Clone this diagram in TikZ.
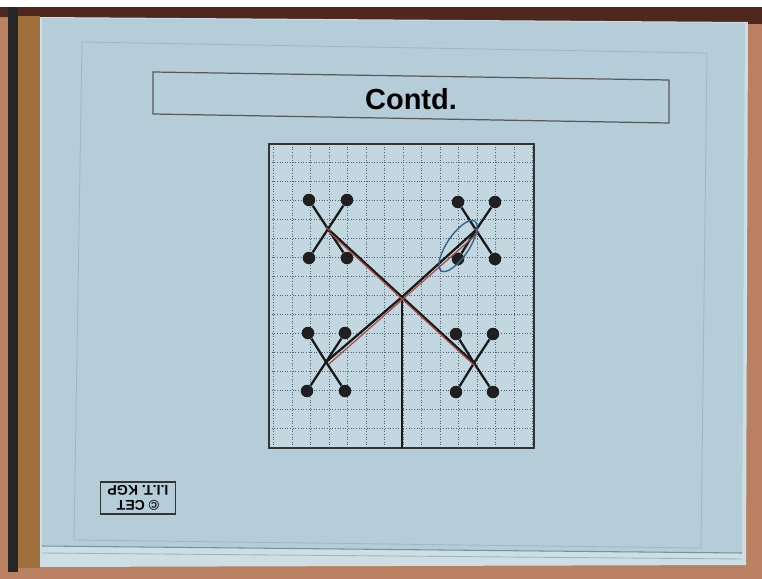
\documentclass[tikz,border=0pt]{standalone}
\usepackage{fontspec}
\setmainfont{Liberation Sans}
\usepackage{xcolor}
\usepackage{tikz}
\definecolor{deskbrown}{RGB}{186,128,98}
\definecolor{framebrown}{RGB}{78,40,30}
\definecolor{woodbrown}{RGB}{160,112,60}
\definecolor{paperblue}{RGB}{180,205,216}
\definecolor{paperedge}{RGB}{205,222,228}
\definecolor{faintline}{RGB}{120,145,160}
\definecolor{gridblue}{RGB}{80,100,120}
\definecolor{penred}{RGB}{165,78,72}
\definecolor{penblue}{RGB}{55,100,140}
\tikzset{
    slidegrid/.style={densely dotted, draw=gridblue, line width=0.5pt},
    gridframe/.style={draw=black!80, line width=0.7pt, fill=paperblue!80!white},
    titlebox/.style={draw=black!65, line width=0.7pt},
    treeedge/.style={draw=black!90, line width=1.3pt},
    treedot/.style={circle, fill=black!88, minimum size=0.25cm, inner sep=0pt},
    penmark/.style={draw=penred, line width=0.7pt},
    logobox/.style={draw=black!80, line width=0.8pt, align=center, font=\bfseries\fontsize{8}{8.5}\selectfont, inner xsep=4pt, inner ysep=2pt}
}

\begin{document}
\begin{tikzpicture}[x=0.02cm, y=-0.02cm]
    \useasboundingbox (0,0) rectangle (762,579);
    % photo surroundings
    \fill[deskbrown] (0,0) rectangle (762,579);
    \fill[white] (0,0) rectangle (762,7);
    \fill[framebrown] (0,7) -- (762,7) -- (762,24) -- (0,17) -- cycle;
    \fill[black!85] (8,7) rectangle (18,572);
    \fill[woodbrown] (18,16) rectangle (40,568);

    % paper sheets
    \fill[paperedge] (40,17) -- (748,22) -- (746,565) -- (40,567) -- cycle;
    \fill[paperblue] (42,18) -- (745,23) -- (742,553) -- (42,546) -- cycle;
    \draw[faintline, line width=0.6pt] (42,546) -- (742,553);
    \draw[faintline!70, line width=0.5pt] (42,553) -- (742,559);
    \draw[faintline, opacity=0.35, line width=0.5pt] (82,42) -- (707,53) -- (701,548) -- (74,540) -- cycle;

    % title
    \draw[titlebox] (153,72) -- (669,80) -- (669,123) -- (153,114) -- cycle;
    \node[font=\bfseries\fontsize{16.5}{18}\selectfont] (title) at (411,99) {Contd.};

    % grid
    \draw[gridframe] (269,144) rectangle (534,448);
    \begin{scope}
        \clip (269,144) rectangle (534,448);
        \foreach \k in {0,...,14}
            \draw[slidegrid] ({273.5+18.5*\k},144) -- ({273.5+18.5*\k},448);
        \foreach \k in {0,...,14}
            \draw[slidegrid] (269,{162+19*\k}) -- (534,{162+19*\k});
    \end{scope}
    \draw[gridframe, fill=none] (269,144) rectangle (534,448);

    % tree
    \coordinate (root) at (402,297);
    \coordinate (stem) at (402,448);
    \coordinate (ul) at (328,229);
    \coordinate (ur) at (476,230);
    \coordinate (ll) at (326,362);
    \coordinate (lr) at (474,363);

    \node[treedot] (ul1) at (309,200) {};
    \node[treedot] (ul2) at (347,200) {};
    \node[treedot] (ul3) at (309,258) {};
    \node[treedot] (ul4) at (347,258) {};
    \node[treedot] (ur1) at (458,202) {};
    \node[treedot] (ur2) at (495,202) {};
    \node[treedot] (ur3) at (458,259) {};
    \node[treedot] (ur4) at (495,259) {};
    \node[treedot] (ll1) at (308,333) {};
    \node[treedot] (ll2) at (345,333) {};
    \node[treedot] (ll3) at (307,391) {};
    \node[treedot] (ll4) at (345,391) {};
    \node[treedot] (lr1) at (456,334) {};
    \node[treedot] (lr2) at (493,334) {};
    \node[treedot] (lr3) at (456,392) {};
    \node[treedot] (lr4) at (493,392) {};

    \draw[treeedge] (root) -- (stem);
    \foreach \x in {ul,ur,ll,lr} {
        \draw[treeedge] (root) -- (\x);
        \foreach \i in {1,2,3,4}
            \draw[treeedge] (\x) -- (\x\i);
    }

    % pen marks
    \draw[penmark] ([shift={(1,3)}]ul) -- ([shift={(1,3)}]lr);
    \draw[penmark] ([shift={(3,2)}]ll) -- ([shift={(2,3)}]ur);
    \draw[penmark] ([shift={(-3,-2)}]ul) -- ([shift={(3,2)}]ul);
    \draw[penmark] ([shift={(-3,-2)}]ur) -- ([shift={(3,2)}]ur);
    \draw[penblue, line width=0.8pt, rotate around={56:(458,246)}] (458,246) ellipse (30 and 11);

    % logo, printed upside down
    \node[logobox, rotate=180] (logo) at (138,498) {\copyright\ CET\\I.I.T. KGP};
\end{tikzpicture}
\end{document}
